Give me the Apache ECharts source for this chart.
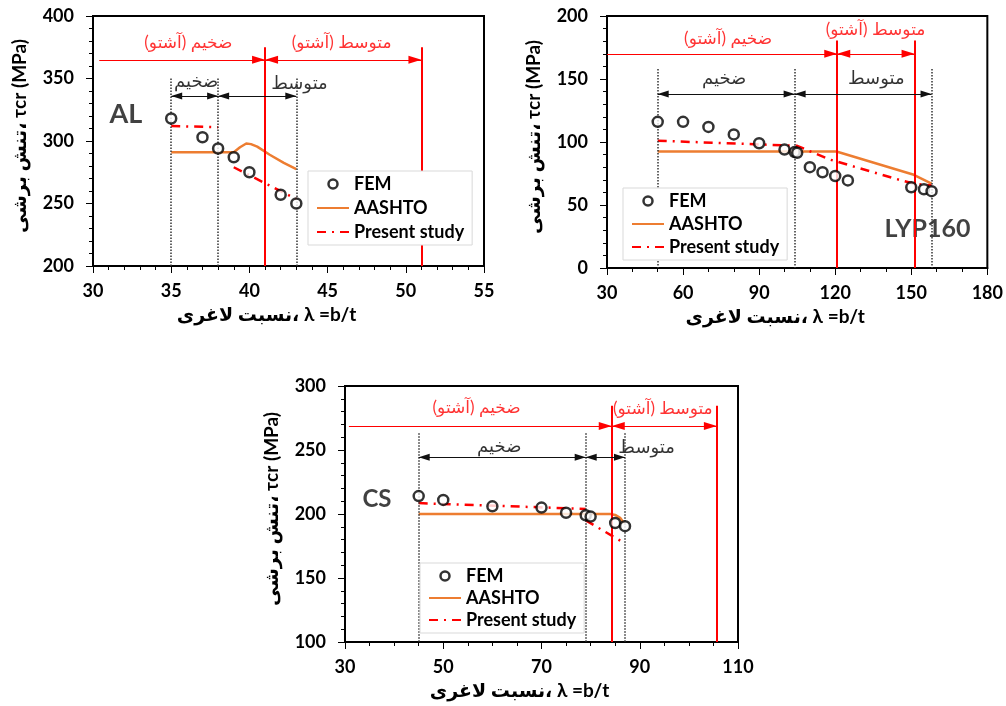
<!DOCTYPE html>
<html><head><meta charset="utf-8">
<script src="https://cdn.jsdelivr.net/npm/echarts@6/dist/echarts.min.js"></script>
<style>html,body{margin:0;padding:0;background:#fff}#c{width:1006px;height:706px}</style>
</head><body><div id="c"></div><script>
// ---------- DATA ----------
// Tick labels
const AL_X_TICKS = [30, 35, 40, 45, 50, 55];
const AL_Y_TICKS = [200, 250, 300, 350, 400];
const LYP_X_TICKS = [30, 60, 90, 120, 150, 180];
const LYP_Y_TICKS = [0, 50, 100, 150, 200];
const CS_X_TICKS = [30, 50, 70, 90, 110];
const CS_Y_TICKS = [100, 150, 200, 250, 300];

// AL panel
const AL_FEM = [[35,318],[37,303],[38,294],[39,287],[40,275],[42,257],[43,250]];
const AL_AASHTO = [[35,291],[39,291],[39.4,295],[39.8,298],[40.1,297.5],[40.5,295.5],[41.3,289],[42.2,282.5],[43,277.5]];
const AL_PRESENT = [[35,312],[38,311],[38.5,null],[39,279],[43,253.5]];
const AL_ZONES = [35, 38, 43];          // slenderness limits (stocky | medium)
const AL_AASHTO_LIMITS = [41, 51];      // AASHTO limits
const AL_GUIDES = {arrowStart:30.4, redArrowY:365, redTop:375, blackArrowY:336, dottedTop:350};

// LYP160 panel
const LYP_FEM = [[50,116],[60,116],[70,112],[80,106],[90,99],[100,94],[104,92],[105,91.5],[110,80],[115,76],[120,73],[125,69.5],[150,64],[155,62.5],[158,61]];
const LYP_AASHTO = [[50,92.5],[120.5,92.5],[151,74],[158,67]];
const LYP_PRESENT = [[50,101],[105,97],[112,91],[118,86],[124,82.5],[135,76],[147,69],[151,67],[158,65.5]];
const LYP_ZONES = [50, 104, 158];
const LYP_AASHTO_LIMITS = [120.8, 151.3];
const LYP_GUIDES = {arrowStart:30, redArrowY:170, redTop:180.5, blackArrowY:138, dottedTop:158};

// CS panel
const CS_FEM = [[45,214],[50,211],[60,206],[70,205],[75,201],[79,199],[80,198],[85,193],[87,190.5]];
const CS_AASHTO = [[45,200],[84,200],[85,199.3],[86,197],[86.8,193]];
const CS_PRESENT = [[45,208.5],[79,204],[79,null],[79,195],[87,177]];
const CS_ZONES = [45, 79, 87];
const CS_AASHTO_LIMITS = [84.3, 105.7];
const CS_GUIDES = {arrowStart:30.8, redArrowY:268.7, redTop:284.5, blackArrowY:244.3, dottedTop:263};

// Texts
const RED_STOCKY = '\u200Fضخیم (آشتو)\u200F';
const RED_MEDIUM = '\u200Fمتوسط (آشتو)\u200F';
const STOCKY = 'ضخیم';
const MEDIUM = 'متوسط';
const X_NAME = 'نسبت لاغری، λ =b/t';
const Y_NAME = 'تنش برشی، τcr (MPa)';
const SERIES_NAMES = ['FEM', 'AASHTO', 'Present study'];

// annotation text anchors [x, y, text]
const AL_TEXT = [[36.1,379,RED_STOCKY],[45.9,379,RED_MEDIUM],[36.6,347.5,STOCKY],[43.2,346.5,MEDIUM],[32.1,321,'AL']];
const LYP_TEXT = [[77.8,182.3,RED_STOCKY],[135.9,188.9,RED_MEDIUM],[76.2,150.5,STOCKY],[136.2,150.5,MEDIUM],[156.4,31,'LYP160']];
const CS_TEXT = [[56.8,283.4,RED_STOCKY],[94.7,282.6,RED_MEDIUM],[61.4,253,STOCKY],[91.4,252,MEDIUM],[36.5,211.7,'CS']];

// ---------- STYLE / LAYOUT ----------
const FONT = "Lato, 'DejaVu Sans', sans-serif";
const ORANGE = '#ED7D31', RED = '#FF0000', BLACK = '#000';

const PANELS = [
  {fem:AL_FEM, aashto:AL_AASHTO, present:AL_PRESENT, zones:AL_ZONES, limits:AL_AASHTO_LIMITS, guides:AL_GUIDES, text:AL_TEXT, xt:AL_X_TICKS, yt:AL_Y_TICKS,
   layout:{left:93, top:16, width:391, height:250, xMinor:5, legendLeft:308, legendTop:171, legendGap:6, title:{fontSize:27, fontWeight:'bold'}}},
  {fem:LYP_FEM, aashto:LYP_AASHTO, present:LYP_PRESENT, zones:LYP_ZONES, limits:LYP_AASHTO_LIMITS, guides:LYP_GUIDES, text:LYP_TEXT, xt:LYP_X_TICKS, yt:LYP_Y_TICKS,
   layout:{left:607, top:16, width:381, height:252, xMinor:3, legendLeft:623, legendTop:188, legendGap:5, title:{fontSize:25, fontWeight:'bold'}}},
  {fem:CS_FEM, aashto:CS_AASHTO, present:CS_PRESENT, zones:CS_ZONES, limits:CS_AASHTO_LIMITS, guides:CS_GUIDES, text:CS_TEXT, xt:CS_X_TICKS, yt:CS_Y_TICKS,
   layout:{left:345, top:386, width:393, height:256, xMinor:4, legendLeft:420, legendTop:563, legendGap:4, title:{fontSize:24, fontWeight:'bold'}}}
];

const option = {animation:false, backgroundColor:'#fff', grid:[], xAxis:[], yAxis:[], series:[], legend:[]};

function axisCommon(minor) {
  return {
    axisLine:{show:true, onZero:false, lineStyle:{color:BLACK, width:2}},
    axisTick:{show:true, inside:false, length:7, lineStyle:{color:BLACK, width:1}},
    minorTick:{show:true, splitNumber:minor, length:4, lineStyle:{color:BLACK, width:1}},
    splitLine:{show:false}, minorSplitLine:{show:false},
    axisLabel:{color:BLACK, fontFamily:FONT, fontSize:18, fontWeight:'bold'},
    nameLocation:'middle',
    nameTextStyle:{color:BLACK, fontFamily:FONT, fontSize:19, fontWeight:'bold'}
  };
}

PANELS.forEach((p, i) => {
  const L = p.layout, g = p.guides;
  const ymin = p.yt[0];
  option.grid.push({left:L.left, top:L.top, width:L.width, height:L.height, show:true, borderColor:BLACK, borderWidth:2, containLabel:false});
  const xa = axisCommon(L.xMinor);
  Object.assign(xa, {type:'value', gridIndex:i, min:p.xt[0], max:p.xt[p.xt.length-1], interval:p.xt[1]-p.xt[0],
    name:X_NAME, nameGap:39});
  xa.axisLabel.margin = 16;
  xa.nameTextStyle.padding = [0, 44, 0, 0];
  option.xAxis.push(xa);
  const ya = axisCommon(5);
  Object.assign(ya, {type:'value', gridIndex:i, min:ymin, max:p.yt[p.yt.length-1], interval:p.yt[1]-p.yt[0],
    name:Y_NAME, nameGap:64});
  ya.axisLabel.margin = 19;
  ya.nameTextStyle.padding = [0, 0, 0, 10];
  option.yAxis.push(ya);

  option.series.push({name:'AASHTO', type:'line', xAxisIndex:i, yAxisIndex:i, data:p.aashto, symbol:'none', showSymbol:false,
    lineStyle:{color:ORANGE, width:2.5}, itemStyle:{color:ORANGE}, z:3, silent:true});
  option.series.push({name:'Present study', type:'line', xAxisIndex:i, yAxisIndex:i, data:p.present, symbol:'none', showSymbol:false, connectNulls:false,
    lineStyle:{color:RED, width:2.5, type:[9,6,2,6]}, itemStyle:{color:RED}, z:4, silent:true});
  option.series.push({name:'FEM', type:'scatter', xAxisIndex:i, yAxisIndex:i, data:p.fem, symbol:'circle', symbolSize:10,
    itemStyle:{color:'#fff', borderColor:BLACK, borderWidth:2.5}, z:5, silent:true});

  // annotation lines
  const ml = [];
  const dotted = {color:'#333', width:1.5, type:'dotted'};
  const redSolid = {color:RED, width:2, type:'solid'};
  const redThin = {color:RED, width:1.2, type:'solid'};
  const blkThin = {color:'#111', width:1.2, type:'solid'};
  const rHead = {symbol:'triangle', symbolSize:[8,13], symbolOffset:[0,6.5]};
  const bHead = {symbol:'triangle', symbolSize:[7,11], symbolOffset:[0,5.5]};
  p.zones.forEach(z => ml.push([{coord:[z, g.dottedTop], lineStyle:dotted, symbol:'none'}, {coord:[z, ymin], symbol:'none'}]));
  p.limits.forEach(a => ml.push([{coord:[a, g.redTop], lineStyle:redSolid, symbol:'none'}, {coord:[a, ymin], symbol:'none'}]));
  ml.push([{coord:[g.arrowStart, g.redArrowY], lineStyle:redThin, symbol:'none'}, Object.assign({coord:[p.limits[0], g.redArrowY]}, rHead)]);
  ml.push([Object.assign({coord:[p.limits[0], g.redArrowY], lineStyle:redThin}, rHead), Object.assign({coord:[p.limits[1], g.redArrowY]}, rHead)]);
  ml.push([Object.assign({coord:[p.zones[0], g.blackArrowY], lineStyle:blkThin}, bHead), Object.assign({coord:[p.zones[1], g.blackArrowY]}, bHead)]);
  ml.push([Object.assign({coord:[p.zones[1], g.blackArrowY], lineStyle:blkThin}, bHead), Object.assign({coord:[p.zones[2], g.blackArrowY]}, bHead)]);

  const textData = p.text.map((t, k) => {
    let lab;
    if (k < 2) lab = {color:RED, fontSize:17, fontFamily:FONT};
    else if (k < 4) lab = {color:BLACK, fontSize:18, fontFamily:FONT};
    else lab = Object.assign({color:'#111', fontFamily:FONT}, L.title);
    return {name:t[2], value:[t[0], t[1]], label:lab};
  });
  option.series.push({type:'scatter', name:'annot'+i, xAxisIndex:i, yAxisIndex:i, data:textData, symbolSize:0, silent:true, z:2,
    label:{show:true, position:'inside', formatter:'{b}'},
    markLine:{silent:true, symbol:'none', label:{show:false}, animation:false, data:ml}});

  option.legend.push({
    data:[
      {name:SERIES_NAMES[0], itemStyle:{color:'#fff', borderColor:BLACK, borderWidth:2.5}},
      {name:SERIES_NAMES[1], itemStyle:{opacity:0}},
      {name:SERIES_NAMES[2], itemStyle:{opacity:0}}
    ],
    left:L.legendLeft, top:L.legendTop, orient:'vertical', selectedMode:false,
    itemWidth:32, itemHeight:9, itemGap:L.legendGap, padding:[4,8,4,8], backgroundColor:'#fff', borderColor:'#d9d9d9', borderWidth:1,
    textStyle:{fontFamily:FONT, fontSize:18, fontWeight:'bold', color:BLACK}, z:10});
});

const chart = echarts.init(document.getElementById('c'), null, {renderer:'canvas'});
chart.setOption(option);
</script></body></html>
